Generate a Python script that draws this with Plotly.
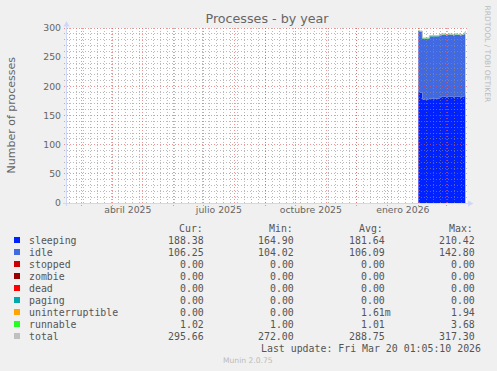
import pandas as pd
import plotly.graph_objects as go

# ---------------- data ----------------
dates = pd.date_range("2026-02-01", "2026-03-20", freq="D").strftime("%Y-%m-%d").tolist()

sleeping = [191, 190, 189, 190,
            178, 177, 178, 178, 177, 178, 178,
            179, 178, 179, 179, 178, 179, 179, 178, 179, 179,
            182, 181, 182, 182, 183, 182, 182, 181, 182, 182, 183, 182, 182,
            182, 181, 182, 182, 183, 182, 182, 182, 181, 182, 182, 182, 185,
            188]
idle = [104, 104, 105, 104,
        104, 105, 104, 104, 105, 104, 104,
        107, 108, 107, 107, 108, 107, 107, 108, 107, 107,
        106, 106, 107, 106, 106, 107, 106, 106, 106, 107, 106, 106, 107,
        106, 106, 106, 107, 106, 106, 106, 107, 106, 106, 106, 107, 106,
        106]
stopped = [0.0] * 48
zombie = [0.0] * 48
dead = [0.0] * 48
paging = [0.0] * 48
uninterruptible = [0.0] * 48
runnable = [1.0, 1.0, 1.0, 1.0,
            1.0, 1.0, 1.0, 1.0, 1.0, 1.1, 1.0,
            1.0, 1.0, 1.0, 1.0, 1.0, 1.0, 1.0, 1.0, 1.0, 1.0,
            1.0, 1.0, 1.0, 1.1, 1.0, 1.0, 1.0, 1.0, 1.0, 1.0, 1.0, 1.0, 1.1,
            1.0, 1.0, 1.0, 1.0, 1.0, 1.1, 1.0, 1.0, 1.0, 1.0, 1.0, 1.0, 1.0,
            1.02]
total = [296, 295, 295, 295,
         283, 283, 283, 283, 283, 283.1, 283,
         287, 287, 287, 287, 287, 287, 287, 287, 287, 287,
         289, 288, 290, 289.1, 290, 290, 289, 288, 289, 290, 290, 289, 290.1,
         289, 288, 289, 290, 290, 289.1, 289, 290, 288, 289, 289, 290, 292,
         295.02]

series_names = ["sleeping", "idle", "stopped", "zombie", "dead", "paging",
                "uninterruptible", "runnable", "total"]
series_colors = ["#0022ff", "#4169e1", "#cc0000", "#990000", "#ff0000", "#00aaaa",
                 "#ffa500", "#22ff22", "#c0c0c0"]
cur_vals = ["188.38", "106.25", "0.00", "0.00", "0.00", "0.00", "0.00", "1.02", "295.66"]
min_vals = ["164.90", "104.02", "0.00", "0.00", "0.00", "0.00", "0.00", "1.00", "272.00"]
avg_vals = ["181.64", "106.09", "0.00", "0.00", "0.00", "0.00", "1.61m", "1.01", "288.75"]
max_vals = ["210.42", "142.80", "0.00", "0.00", "0.00", "0.00", "1.94", "3.68", "317.30"]
col_headers = ["Cur:", "Min:", "Avg:", "Max:"]

y_ticks = [0, 50, 100, 150, 200, 250, 300]
x_label_dates = ["2025-04-16 12:00", "2025-07-16 12:00", "2025-10-16 12:00", "2026-01-16 12:00"]
x_label_text = ["abril 2025", "julio 2025", "octubre 2025", "enero 2026"]
x_range = ["2025-02-14 16:00", "2026-03-21 16:00"]
y_range = [0, 300]

title_text = "Processes - by year"
y_title = "Number of processes"
last_update = "Last update: Fri Mar 20 01:05:10 2026"
credit = "RRDTOOL / TOBI OETIKER"
footer = "Munin 2.0.75"

# ---------------- geometry helpers ----------------
WIDTH, HEIGHT = 497, 371
L, T, W, H = 67, 28, 400, 175
B = T + H


def px(x):
    return (x - L) / W


def py(y):
    return (B - y) / H


TXT = "#666666"
LEG = "#555555"
MONO = "DejaVu Sans Mono"
SANS = "DejaVu Sans"

fig = go.Figure()

stack_series = [sleeping, idle, stopped, zombie, dead, paging, uninterruptible, runnable]
for name, vals, col in zip(series_names[:8], stack_series, series_colors[:8]):
    fig.add_trace(go.Scatter(x=dates, y=vals, name=name, mode="lines",
                             line=dict(width=0, shape="hv", color=col),
                             fillcolor=col, stackgroup="procs", hoverinfo="skip"))
fig.add_trace(go.Scatter(x=dates, y=total, name="total", mode="lines",
                         line=dict(width=1, shape="hv", color=series_colors[8]),
                         hoverinfo="skip"))

shapes = []
x0d = pd.Timestamp(x_range[0])
x1d = pd.Timestamp(x_range[1])
span = (x1d - x0d).total_seconds()


def date_px(d):
    return L + (pd.Timestamp(d) - x0d).total_seconds() / span * W


def snap(p):
    return int(p) + 0.5


minor_col = "rgba(140,140,140,0.6)"
major_col = "rgba(222,79,79,0.6)"
dash = "1px,2px"

for v in range(10, 300, 10):
    if v % 50 == 0:
        continue
    yy = snap(B - v / 300 * H)
    shapes.append(dict(type="line", xref="paper", yref="paper", x0=px(64), x1=px(467),
                       y0=py(yy), y1=py(yy), line=dict(color=minor_col, width=1, dash=dash),
                       layer="above"))
mondays = pd.date_range(x0d.normalize(), x1d, freq="W-MON")
for d in mondays:
    xx = snap(date_px(d))
    if xx < L or xx > L + W:
        continue
    shapes.append(dict(type="line", xref="paper", yref="paper", x0=px(xx), x1=px(xx),
                       y0=py(T), y1=py(B + 2), line=dict(color=minor_col, width=1, dash=dash),
                       layer="above"))
for v in range(50, 301, 50):
    yy = snap(B - v / 300 * H)
    shapes.append(dict(type="line", xref="paper", yref="paper", x0=px(64), x1=px(467),
                       y0=py(yy), y1=py(yy), line=dict(color=major_col, width=1, dash=dash),
                       layer="above"))
months = pd.date_range(x0d.normalize(), x1d, freq="MS")
for d in months:
    xx = snap(date_px(d))
    if xx < L or xx > L + W:
        continue
    shapes.append(dict(type="line", xref="paper", yref="paper", x0=px(xx), x1=px(xx),
                       y0=py(T), y1=py(B + 3), line=dict(color=major_col, width=1, dash=dash),
                       layer="above"))

axis_col = "#CFD6F8"
shapes.append(dict(type="line", xref="paper", yref="paper", x0=px(63), x1=px(469),
                   y0=py(203.5), y1=py(203.5), line=dict(color=axis_col, width=1), layer="above"))
shapes.append(dict(type="line", xref="paper", yref="paper", x0=px(66.5), x1=px(66.5),
                   y0=py(206), y1=py(24), line=dict(color=axis_col, width=1), layer="above"))
shapes.append(dict(type="path", xref="paper", yref="paper",
                   path=f"M {px(63.5)} {py(26.5)} L {px(69.5)} {py(26.5)} L {px(66.5)} {py(21)} Z",
                   fillcolor=axis_col, line=dict(width=0), layer="above"))
shapes.append(dict(type="path", xref="paper", yref="paper",
                   path=f"M {px(468)} {py(200.5)} L {px(468)} {py(206.5)} L {px(473.5)} {py(203.5)} Z",
                   fillcolor=axis_col, line=dict(width=0), layer="above"))

annotations = []
annotations.append(dict(x=px(11), y=py(114.5), xref="paper", yref="paper", text=y_title,
                        textangle=-90, showarrow=False, xanchor="center", yanchor="middle",
                        font=dict(family=SANS, size=11, color=TXT)))
annotations.append(dict(x=px(487), y=py(53.5), xref="paper", yref="paper", text=credit,
                        textangle=90, showarrow=False, xanchor="center", yanchor="middle",
                        font=dict(family=SANS, size=7.5, color="#bbbbbb")))

row0 = 240
pitch = 12
hdr_left = [176.7, 266.7, 356.7, 446.7]
col_right = [211.9, 301.9, 392.6, 482.6]
for h, xl in zip(col_headers, hdr_left):
    annotations.append(dict(x=px(xl), y=py(row0 - pitch), xref="paper", yref="paper", text=h,
                            showarrow=False, xanchor="left", yanchor="middle",
                            font=dict(family=MONO, size=9.9, color=LEG)))
for i, name in enumerate(series_names):
    ry = row0 + i * pitch
    shapes.append(dict(type="rect", xref="paper", yref="paper", x0=px(14), x1=px(20),
                       y0=py(ry + 3), y1=py(ry - 3), fillcolor=series_colors[i],
                       line=dict(width=0), layer="above"))
    annotations.append(dict(x=px(26.5), y=py(ry), xref="paper", yref="paper", text=name,
                            showarrow=False, xanchor="left", yanchor="middle",
                            font=dict(family=MONO, size=9.9, color=LEG)))
    for vals, xr in zip([cur_vals, min_vals, avg_vals, max_vals], col_right):
        s = vals[i]
        if s[-1].isdigit():
            s = s + "\u00a0"
        annotations.append(dict(x=px(xr), y=py(ry), xref="paper", yref="paper", text=s,
                                showarrow=False, xanchor="right", yanchor="middle",
                                font=dict(family=MONO, size=9.9, color=LEG)))
annotations.append(dict(x=px(482.7), y=py(row0 + 9 * pitch), xref="paper", yref="paper",
                        text=last_update, showarrow=False, xanchor="right", yanchor="middle",
                        font=dict(family=MONO, size=9.9, color=LEG)))
annotations.append(dict(x=px(248), y=py(360), xref="paper", yref="paper", text=footer,
                        showarrow=False, xanchor="center", yanchor="middle",
                        font=dict(family=SANS, size=7.6, color="#bbbbbb")))

fig.update_layout(
    width=WIDTH, height=HEIGHT, autosize=False,
    margin=dict(l=L, r=WIDTH - L - W, t=T, b=HEIGHT - B, pad=0),
    paper_bgcolor="#f0f0f0", plot_bgcolor="#ffffff",
    showlegend=False,
    title=dict(text=title_text, x=0.5, xref="paper", y=1 - 19 / HEIGHT, yref="container",
               xanchor="center", yanchor="middle",
               font=dict(family=SANS, size=12.7, color=TXT)),
    xaxis=dict(type="date", range=x_range, showgrid=False, zeroline=False, showline=False,
               tickvals=x_label_dates, ticktext=x_label_text, ticks="",
               tickfont=dict(family=SANS, size=9.3, color=TXT), fixedrange=True),
    yaxis=dict(range=y_range, showgrid=False, zeroline=False, showline=False,
               tickvals=y_ticks, ticks="", ticklabelstandoff=5,
               tickfont=dict(family=SANS, size=9.3, color=TXT), fixedrange=True),
    shapes=shapes, annotations=annotations,
)

fig.write_html("out.html", config={"displayModeBar": False},
               post_script="document.body.style.margin='0';document.body.style.padding='0';"
                           "document.body.style.overflow='hidden';")
